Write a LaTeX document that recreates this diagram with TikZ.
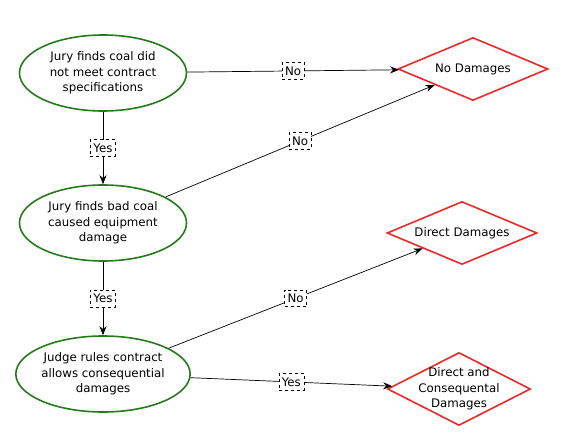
\documentclass[tikz,border=0pt]{standalone}
\usepackage{fontspec}
\setmainfont{DejaVu Sans}
\usetikzlibrary{shapes.geometric,arrows.meta}
\definecolor{nodegreen}{RGB}{38,122,28}
\definecolor{nodered}{RGB}{238,40,40}
\begin{document}
\begin{tikzpicture}[x=1pt,y=-1pt,
  font=\fontsize{11.8pt}{15.5pt}\selectfont,
  decision/.style={ellipse,draw=nodegreen,line width=1.6pt,minimum width=167pt,minimum height=76pt,inner sep=0pt,align=center},
  outcome/.style={diamond,aspect=3,draw=nodered,line width=1.6pt,inner sep=0pt,align=center},
  lbl/.style={draw,dashed,fill=white,inner xsep=3pt,inner ysep=4pt,line width=0.6pt,font=\fontsize{11.8pt}{13pt}\selectfont},
  conn/.style={draw,line width=0.7pt,-{Stealth[length=9pt,width=7pt]}}]
\useasboundingbox (0,0) rectangle (572,443);
\node[decision] (e1) at (103,73) {Jury finds coal did\\not meet contract\\specifications};
\node[decision] (e2) at (103,223) {Jury finds bad coal\\caused equipment\\damage};
\node[decision] (e3) at (103,374) {Judge rules contract\\allows consequential\\damages};
\node[outcome,minimum width=150pt,minimum height=63pt] (d1) at (473,69) {No Damages};
\node[outcome,minimum width=150pt,minimum height=63pt] (d2) at (462,233) {Direct Damages};
\node[outcome,aspect=2,inner sep=-5.5pt,minimum width=143pt,minimum height=73pt] (d3) at (459,389) {Direct and\\Consequental\\Damages};
\draw[conn] (e1) -- node[lbl] {No} (d1);
\draw[conn] (e2) -- node[lbl] {No} (d1);
\draw[conn] (e1) -- node[lbl] {Yes} (e2);
\draw[conn] (e2) -- node[lbl] {Yes} (e3);
\draw[conn] (e3) -- node[lbl] {No} (d2);
\draw[conn] (e3) -- node[lbl] {Yes} (d3);
\end{tikzpicture}
\end{document}
